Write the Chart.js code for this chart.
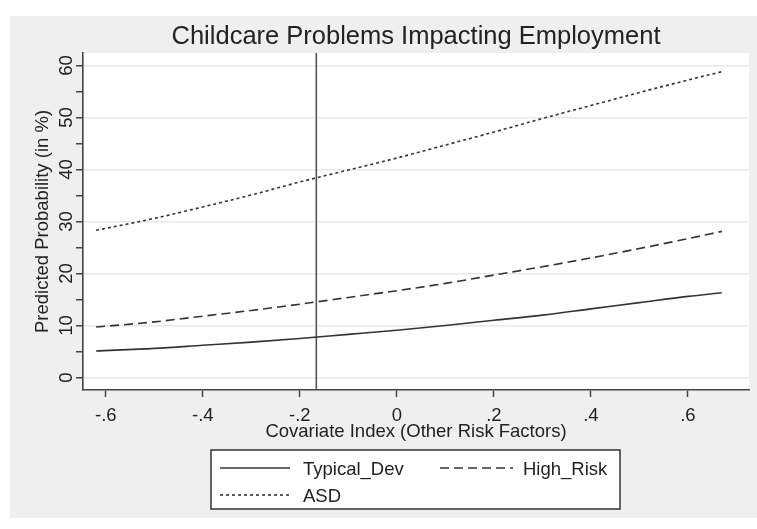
<!DOCTYPE html>
<html>
<head>
<meta charset="utf-8">
<script src="https://cdn.jsdelivr.net/npm/chart.js@4.4.1/dist/chart.umd.min.js"></script>
<style>
  html, body { margin: 0; padding: 0; background: #fff; }
  canvas { display: block; }
</style>
</head>
<body>
<canvas id="chart" width="757" height="529"></canvas>
<script>
// predicted probabilities (%) along the covariate index
const covariateIndex = [-0.62, -0.5, -0.4, -0.3, -0.2, -0.1, 0, 0.1, 0.2, 0.3, 0.4, 0.5, 0.6, 0.67];
const typicalDev = [5.1, 5.6, 6.2, 6.8, 7.5, 8.3, 9.1, 10.0, 11.0, 12.0, 13.2, 14.4, 15.6, 16.3];
const highRisk   = [9.7, 10.7, 11.8, 12.9, 14.1, 15.4, 16.7, 18.1, 19.7, 21.3, 23.0, 24.8, 26.7, 28.1];
const asd        = [28.3, 30.6, 32.8, 35.1, 37.6, 39.9, 42.2, 44.7, 47.2, 49.8, 52.3, 54.8, 57.2, 58.8];

// mean of the covariate index (vertical reference line)
const meanIndex = -0.166;

const xTicks = [-0.6, -0.4, -0.2, 0, 0.2, 0.4, 0.6];
const yTicks = [0, 5, 10, 15, 20, 25, 30, 35, 40, 45, 50, 55, 60];
const yLabels = [0, 10, 20, 30, 40, 50, 60];

const FONT = "'Liberation Sans', Arial, sans-serif";
const INK = '#333333';
const AXIS = '#444444';

function fmtX(v) {
  if (Math.abs(v) < 1e-9) return '0';
  return (v < 0 ? '-' : '') + Math.abs(v).toFixed(1).replace(/^0/, '');
}

function series(values) {
  return covariateIndex.map((x, i) => ({ x: x, y: values[i] }));
}

const datasets = [
  { label: 'Typical_Dev', data: series(typicalDev), borderDash: [] },
  { label: 'High_Risk', data: series(highRisk), borderDash: [9, 5] },
  { label: 'ASD', data: series(asd), borderDash: [3, 3] }
].map(d => Object.assign(d, {
  borderColor: INK,
  borderWidth: 1.6,
  pointRadius: 0,
  fill: false,
  cubicInterpolationMode: 'monotone'
}));

// Stata-style frame: grey graph region, title, axis titles, rotated y labels, boxed legend
const stataFrame = {
  id: 'stataFrame',
  beforeDraw(chart) {
    const { ctx, chartArea: a } = chart;
    ctx.save();
    ctx.fillStyle = '#ffffff';
    ctx.fillRect(0, 0, chart.width, chart.height);
    ctx.fillStyle = '#efefef';
    ctx.fillRect(10, 16, chart.width - 10, 502);
    ctx.fillStyle = '#ffffff';
    ctx.fillRect(a.left, a.top, a.right - a.left, a.bottom - a.top);
    ctx.restore();
  },
  beforeDatasetsDraw(chart) {
    const { ctx, chartArea: a, scales } = chart;
    const px = scales.x.getPixelForValue(meanIndex);
    ctx.save();
    ctx.strokeStyle = '#555555';
    ctx.lineWidth = 1.6;
    ctx.beginPath();
    ctx.moveTo(px, a.top);
    ctx.lineTo(px, a.bottom);
    ctx.stroke();
    ctx.restore();
  },
  afterDraw(chart) {
    const { ctx, chartArea: a, scales } = chart;
    const cx = (a.left + a.right) / 2;
    const cy = (a.top + a.bottom) / 2;
    ctx.save();
    ctx.fillStyle = '#222222';

    // title
    ctx.font = '25.5px ' + FONT;
    ctx.textAlign = 'center';
    ctx.textBaseline = 'alphabetic';
    ctx.fillText('Childcare Problems Impacting Employment', cx, 44);

    // x axis title
    ctx.font = '18.5px ' + FONT;
    ctx.fillText('Covariate Index (Other Risk Factors)', cx, 437);

    // y axis title
    ctx.save();
    ctx.translate(47.5, cy);
    ctx.rotate(-Math.PI / 2);
    ctx.fillText('Predicted Probability (in %)', 0, 0);
    ctx.restore();

    // rotated y tick labels
    yLabels.forEach(v => {
      const py = scales.y.getPixelForValue(v);
      ctx.save();
      ctx.translate(71.5, py);
      ctx.rotate(-Math.PI / 2);
      ctx.fillText(String(v), 0, 0);
      ctx.restore();
    });

    // legend box
    const box = { left: 211, top: 450, right: 620, bottom: 509 };
    ctx.fillStyle = '#ffffff';
    ctx.fillRect(box.left, box.top, box.right - box.left, box.bottom - box.top);
    ctx.strokeStyle = '#333333';
    ctx.lineWidth = 1.5;
    ctx.strokeRect(box.left, box.top, box.right - box.left, box.bottom - box.top);

    const slots = [
      { x0: 220, x1: 290, tx: 303, y: 468 },
      { x0: 440, x1: 513, tx: 523, y: 468 },
      { x0: 220, x1: 290, tx: 303, y: 495 }
    ];
    chart.data.datasets.forEach((ds, i) => {
      const s = slots[i];
      ctx.strokeStyle = ds.borderColor;
      ctx.lineWidth = ds.borderWidth;
      ctx.setLineDash(ds.borderDash);
      ctx.beginPath();
      ctx.moveTo(s.x0, s.y);
      ctx.lineTo(s.x1, s.y);
      ctx.stroke();
      ctx.setLineDash([]);
      ctx.fillStyle = '#222222';
      ctx.textAlign = 'left';
      ctx.textBaseline = 'alphabetic';
      ctx.fillText(ds.label, s.tx, s.y + 7);
    });
    ctx.restore();
  }
};

new Chart(document.getElementById('chart'), {
  type: 'line',
  data: { datasets: datasets },
  options: {
    responsive: false,
    devicePixelRatio: 1,
    animation: false,
    layout: { padding: { left: 0, top: 53, right: 8, bottom: 0 } },
    plugins: {
      legend: { display: false },
      title: { display: false },
      tooltip: { enabled: false }
    },
    scales: {
      x: {
        type: 'linear',
        min: -0.647,
        max: 0.726,
        afterBuildTicks: axis => { axis.ticks = xTicks.map(v => ({ value: v })); },
        afterFit: axis => { axis.height = 139; },
        border: { display: true, color: AXIS, width: 1.6 },
        grid: {
          drawOnChartArea: false,
          drawTicks: true,
          tickLength: 7,
          tickWidth: 1.5,
          tickColor: AXIS
        },
        ticks: {
          padding: 8,
          maxRotation: 0,
          color: '#222222',
          font: { family: FONT, size: 18.5 },
          callback: v => fmtX(v)
        }
      },
      y: {
        type: 'linear',
        min: -2.4,
        max: 62.4,
        afterBuildTicks: axis => { axis.ticks = yTicks.map(v => ({ value: v })); },
        afterFit: axis => { axis.width = 83; },
        border: { display: true, color: AXIS, width: 1.6 },
        grid: {
          drawTicks: true,
          tickLength: 7,
          tickWidth: 1.5,
          tickColor: AXIS,
          lineWidth: 1.5,
          color: ctx => (ctx.tick && ctx.tick.value % 10 === 0) ? '#e8e8e8' : 'rgba(0,0,0,0)'
        },
        ticks: { display: false }
      }
    }
  },
  plugins: [stataFrame]
});
</script>
</body>
</html>
